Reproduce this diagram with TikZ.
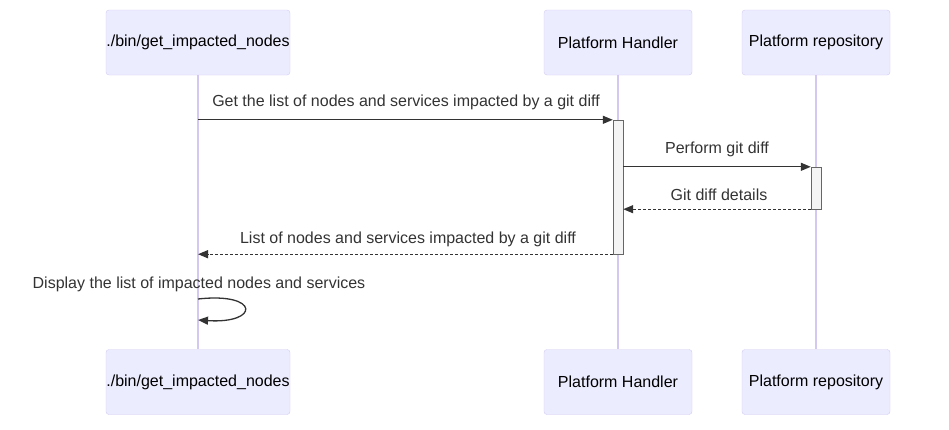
\documentclass[tikz,border=0pt]{standalone}
\usepackage{fontspec}
\setmainfont{Liberation Sans}
\usetikzlibrary{arrows.meta}

\definecolor{actorfill}{HTML}{ECECFF}
\definecolor{actorline}{HTML}{D3CBF3}
\definecolor{lifeline}{HTML}{D3C8F2}
\definecolor{msgline}{HTML}{333333}
\definecolor{actfill}{HTML}{F4F4F4}
\definecolor{actline}{HTML}{666666}

\tikzset{
  actor/.style={draw=actorline, fill=actorfill, rounded corners=3pt, minimum height=65pt,
    inner sep=0pt, font=\fontsize{16}{19}\selectfont, text=black},
  activation/.style={draw=actline, fill=actfill, minimum width=10pt, inner sep=0pt},
  msg/.style={draw=msgline, line width=1.3pt, -{Triangle[length=10pt,width=8pt]}},
  reply/.style={msg, dashed, dash pattern=on 3pt off 2pt},
  msglabel/.style={font=\fontsize{16}{19}\selectfont, text=msgline, inner sep=0pt},
}

\begin{document}
\begin{tikzpicture}[x=1pt,y=-1pt]
\useasboundingbox (0,0) rectangle (949,429);

% Actors (top)
\node[actor, minimum width=184pt] (bintop) at (198,42.5) {./bin/get\_impacted\_nodes};
\node[actor, minimum width=148pt] (handlertop) at (618,42.5) {Platform Handler};
\node[actor, minimum width=148pt] (repotop) at (816,42.5) {Platform repository};

% Actors (bottom)
\node[actor, minimum width=184pt] (binbot) at (198,382) {./bin/get\_impacted\_nodes};
\node[actor, minimum width=148pt] (handlerbot) at (618,382) {Platform Handler};
\node[actor, minimum width=148pt] (repobot) at (816,382) {Platform repository};

% Lifelines
\draw[lifeline, line width=1.5pt] (bintop) -- (binbot);
\draw[lifeline, line width=1.5pt] (handlertop) -- (handlerbot);
\draw[lifeline, line width=1.5pt] (repotop) -- (repobot);

% Activations
\node[activation, minimum height=134pt] (handleract) at (618,187) {};
\node[activation, minimum height=42pt] (repoact) at (816,188) {};

% Messages
\draw[msg] (bintop.south |- handleract.north) -- (handleract.north west);
\draw[msg] (handleract.east |- repoact.north) -- (repoact.north west);
\draw[reply] (repoact.south west) -- (handleract.east |- repoact.south);
\draw[reply] (handleract.south west) -- (bintop.south |- handleract.south);

% Self message
\coordinate (loopstart) at (198,299);
\coordinate (loopend) at (198,320);
\draw[msg] (loopstart) .. controls (260,292) and (260,324) .. (loopend);

% Message labels
\node[msglabel] (getlabel) at (406,102) {Get the list of nodes and services impacted by a git diff};
\node[msglabel] (difflabel) at (717,149) {Perform git diff};
\node[msglabel] (detailslabel) at (719,195) {Git diff details};
\node[msglabel] (listlabel) at (408,239) {List of nodes and services impacted by a git diff};
\node[msglabel] (displaylabel) at (199,284) {Display the list of impacted nodes and services};

\end{tikzpicture}
\end{document}
